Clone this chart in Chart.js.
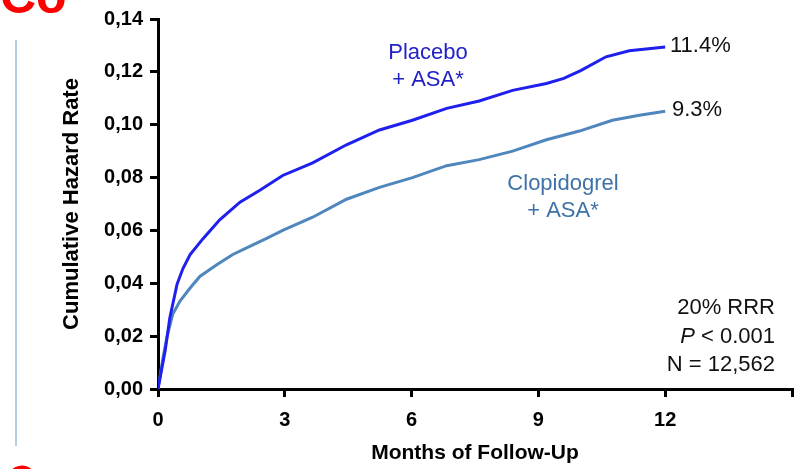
<!DOCTYPE html>
<html>
<head>
<meta charset="utf-8">
<script src="https://cdn.jsdelivr.net/npm/chart.js@4/dist/chart.umd.min.js"></script>
<style>
  html, body { margin: 0; padding: 0; background: #fff; }
  canvas { display: block; }
</style>
</head>
<body>
<canvas id="mychart" width="808" height="469"></canvas>
<script>
// months of follow-up and cumulative hazard
var placeboMonths = [0, 0.17, 0.28, 0.45, 0.59, 0.76, 1.06, 1.46, 1.94, 2.41, 2.95, 3.66, 4.46, 5.24, 6.02, 6.83, 7.6, 8.39, 9.19, 9.6, 10.0, 10.6, 11.15, 12];
var placeboRate   = [0, 0.0146, 0.027, 0.0396, 0.0456, 0.0509, 0.0568, 0.064, 0.0707, 0.0752, 0.0808, 0.0856, 0.0924, 0.098, 0.1017, 0.1062, 0.109, 0.113, 0.1156, 0.1175, 0.1205, 0.1257, 0.128, 0.1294];

var clopiMonths = [0, 0.12, 0.21, 0.35, 0.52, 0.76, 0.99, 1.39, 1.77, 2.17, 2.57, 2.95, 3.66, 4.46, 5.24, 6.02, 6.83, 7.6, 8.39, 9.19, 9.97, 10.75, 11.39, 12];
var clopiRate   = [0, 0.012, 0.0195, 0.0284, 0.0333, 0.0382, 0.0426, 0.047, 0.0509, 0.054, 0.057, 0.060, 0.065, 0.0718, 0.0763, 0.080, 0.0845, 0.0868, 0.090, 0.0943, 0.0976, 0.1017, 0.1036, 0.1051];

var xTicks = [0, 3, 6, 9, 12, 15];
var yTicks = [0, 0.02, 0.04, 0.06, 0.08, 0.10, 0.12, 0.14];

function toPoints(xs, ys) {
  return xs.map(function (x, i) { return { x: x, y: ys[i] }; });
}

var myChart = document.getElementById('mychart');

// texts drawn on the picture
var annotations = {
  id: 'annotations',
  afterDraw: function (chart) {
    var ctx = chart.ctx;
    ctx.save();
    ctx.textBaseline = 'middle';

    ctx.font = '22px "Liberation Sans", Arial, sans-serif';
    ctx.textAlign = 'center';
    ctx.fillStyle = '#2222c8';
    ctx.fillText('Placebo', 428, 53);
    ctx.fillText('+ ASA*', 428, 80);
    ctx.fillStyle = '#3f72a6';
    ctx.fillText('Clopidogrel', 563, 184);
    ctx.fillText('+ ASA*', 563, 211);

    ctx.fillStyle = '#111';
    ctx.textAlign = 'left';
    ctx.fillText('11.4%', 670, 46);
    ctx.fillText('9.3%', 672, 110);

    ctx.textAlign = 'right';
    ctx.fillText('20% RRR', 775, 308);
    ctx.fillText('N = 12,562', 775, 365);
    var rest = ' < 0.001';
    var w = ctx.measureText(rest).width;
    ctx.fillText(rest, 775, 337);
    ctx.font = 'italic 22px "Liberation Sans", Arial, sans-serif';
    ctx.fillText('P', 775 - w, 337);

    // leftovers from the slide the picture was cut from
    ctx.strokeStyle = '#b3d0e2';
    ctx.lineWidth = 2;
    ctx.beginPath();
    ctx.moveTo(16, 40);
    ctx.lineTo(16, 446);
    ctx.stroke();

    ctx.fillStyle = '#ff0000';
    ctx.textAlign = 'left';
    ctx.textBaseline = 'alphabetic';
    ctx.font = 'bold 50px "Liberation Sans", Arial, sans-serif';
    ctx.fillText('Co', 0, 13);

    ctx.strokeStyle = '#ff0000';
    ctx.lineWidth = 5;
    ctx.beginPath();
    ctx.ellipse(22, 480, 12, 12, 0, Math.PI * 1.1, Math.PI * 1.9);
    ctx.stroke();
    ctx.restore();
  }
};

var grafica = new Chart(myChart, {
  type: 'line',
  data: {
    datasets: [
      {
        label: 'Placebo + ASA*',
        data: toPoints(placeboMonths, placeboRate),
        borderColor: '#1f1fee',
        borderWidth: 3,
        pointRadius: 0,
        tension: 0,
        fill: false
      },
      {
        label: 'Clopidogrel + ASA*',
        data: toPoints(clopiMonths, clopiRate),
        borderColor: '#4f86bd',
        borderWidth: 3,
        pointRadius: 0,
        tension: 0,
        fill: false
      }
    ]
  },
  options: {
    responsive: false,
    animation: false,
    layout: { padding: { top: 15, right: 16, left: 0, bottom: 0 } },
    plugins: {
      legend: { display: false },
      tooltip: { enabled: false }
    },
    scales: {
      x: {
        type: 'linear',
        min: 0,
        max: 15,
        afterBuildTicks: function (scale) {
          scale.ticks = xTicks.map(function (v) { return { value: v }; });
        },
        afterFit: function (scale) { scale.height = 80; },
        border: { color: '#000', width: 3 },
        grid: { drawOnChartArea: false, color: '#000', lineWidth: 3, tickLength: 8 },
        ticks: {
          padding: 11,
          color: '#000',
          font: { family: '"Liberation Sans", Arial, sans-serif', size: 20, weight: 'bold' },
          callback: function (v) { return v === 15 ? '' : v; }
        },
        title: {
          display: true,
          text: 'Months of Follow-Up',
          color: '#000',
          font: { family: '"Liberation Sans", Arial, sans-serif', size: 21, weight: 'bold' },
          padding: { top: 0, bottom: 3 }
        }
      },
      y: {
        min: 0,
        max: 0.14,
        afterBuildTicks: function (scale) {
          scale.ticks = yTicks.map(function (v) { return { value: v }; });
        },
        afterFit: function (scale) { scale.width = 158; },
        border: { color: '#000', width: 3 },
        grid: { drawOnChartArea: false, color: '#000', lineWidth: 3, tickLength: 8 },
        ticks: {
          padding: 7,
          color: '#000',
          font: { family: '"Liberation Sans", Arial, sans-serif', size: 20, weight: 'bold' },
          callback: function (v) { return v.toFixed(2).replace('.', ','); }
        },
        title: {
          display: true,
          text: 'Cumulative Hazard Rate',
          color: '#000',
          font: { family: '"Liberation Sans", Arial, sans-serif', size: 22, weight: 'bold' },
          padding: { top: 59, bottom: 0 }
        }
      }
    }
  },
  plugins: [annotations]
});
</script>
</body>
</html>
